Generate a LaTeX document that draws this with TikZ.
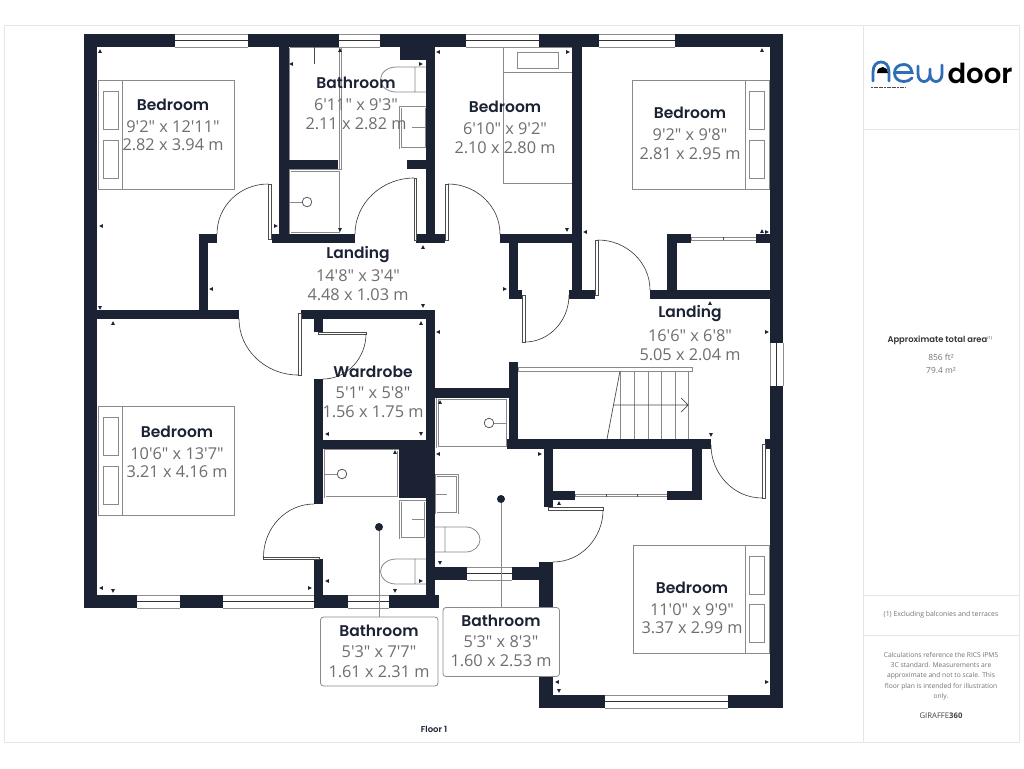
\documentclass[tikz,border=0pt]{standalone}
\usepackage{fontspec}
\setmainfont{Open Sans}[Ligatures=TeXOff]
\newfontfamily\titlef{Poppins}[BoldFont={Poppins SemiBold}]
\definecolor{wallc}{HTML}{1A2233}
\definecolor{fixc}{HTML}{8A8A8A}
\definecolor{txtc}{HTML}{6E6E6E}
\definecolor{framec}{HTML}{E6E6E6}
\definecolor{logob}{HTML}{2F6DB5}
\tikzset{
  x=1pt,y=-1pt,
  fix/.style={draw=fixc,line width=0.8pt},
  fixd/.style={draw=black!70,line width=0.7pt},
  dbl/.style={draw=fixc,line width=0.95pt,double=white,double distance=1pt},
  arcl/.style={draw=black!80,line width=0.6pt},
  leaf/.style={draw=black!70,fill=white,line width=0.6pt},
  win/.style={draw=black!45,line width=0.7pt},
  winc/.style={draw=black!80,line width=0.7pt},
  roomt/.style={font=\titlef\fontsize{15.5}{15.5}\selectfont\bfseries,text=wallc,inner sep=0pt,anchor=center,yshift=0.9pt},
  roomd/.style={font=\fontsize{16.3}{16.3}\selectfont,text=txtc,inner sep=0pt,anchor=center},
  side/.style={font=\fontsize{6.9}{8}\selectfont,text=black!55,inner sep=0pt,anchor=center,align=center},
  callout/.style={draw=fixc,fill=white,rounded corners=3pt,line width=0.8pt,inner sep=0pt},
  cdot/.style={circle,fill=wallc,inner sep=0pt,minimum size=8pt},
  clink/.style={draw=fixc,line width=0.8pt}
}
\newcommand{\wallr}[4]{\fill[wallc] (#1,#2) rectangle (#3,#4);}
\newcommand{\winh}[4]{\fill[white] (#1,#3) rectangle (#2,#4);\draw[win] (#1,#3)--(#2,#3) (#1,#4)--(#2,#4);\draw[winc] (#1,{(#3+#4)/2})--(#2,{(#3+#4)/2});}
\newcommand{\winv}[4]{\fill[white] (#1,#3) rectangle (#2,#4);\draw[win] (#1,#3)--(#1,#4) (#2,#3)--(#2,#4);\draw[winc] ({(#1+#2)/2},#3)--({(#1+#2)/2},#4);}
\newcommand{\triU}[2]{\fill[wallc,shift={(#1,#2)}] (-1.9,1.9)--(1.9,1.9)--(0,-1.9)--cycle;}
\newcommand{\triD}[2]{\fill[wallc,shift={(#1,#2)}] (-1.9,-1.9)--(1.9,-1.9)--(0,1.9)--cycle;}
\newcommand{\triL}[2]{\fill[wallc,shift={(#1,#2)}] (1.9,-1.9)--(1.9,1.9)--(-1.9,0)--cycle;}
\newcommand{\triR}[2]{\fill[wallc,shift={(#1,#2)}] (-1.9,-1.9)--(-1.9,1.9)--(1.9,0)--cycle;}
\begin{document}
\begin{tikzpicture}
\useasboundingbox (0,0) rectangle (1024,768);
\fill[white] (0,0) rectangle (1024,768);
% frame
\draw[framec,line width=0.9pt] (4,25.5) rectangle (1019,742.5) (863.5,25.5)--(863.5,742.5)
  (863.5,129.5)--(1019,129.5) (863.5,595.5)--(1019,595.5) (863.5,635.5)--(1019,635.5);
% beds, fixtures
\draw[fix] (98,80) rectangle (234,189) (122.5,80)--(122.5,189);
\draw[fix] (103,91) rectangle (118,129) (103,140) rectangle (118,178);
\draw[fix] (98,406) rectangle (234,515) (122.5,406)--(122.5,515);
\draw[fix] (103,417) rectangle (118,455) (103,466) rectangle (118,504);
\draw[fix] (503,47) rectangle (572,183) (503,72)--(572,72);
\draw[fix] (517,52) rectangle (558,68);
\draw[fix] (632,80) rectangle (769,189) (745,80)--(745,189);
\draw[fix] (749,91) rectangle (764,129) (749,140) rectangle (764,178);
\draw[fix] (633,545) rectangle (769,653) (745,545)--(745,653);
\draw[fix] (749,556) rectangle (764,594) (749,604) rectangle (764,642);
% top bathroom
\draw[fix,line width=1pt] (289.5,48)--(340,48) (289.5,48)--(289.5,160);
\draw[fix,line width=0.8pt] (339.5,47)--(339.5,233) (341.5,47)--(341.5,170);
\draw[fixd] (314,47)--(314,64);
\draw[dbl] (290,170.5) rectangle (340,233);
\draw[black!70,line width=0.7pt] (307,202) circle (4.8);
\draw[fix] (289,202)--(302.2,202);
\draw[fix] (426,67)--(396,67) .. controls (387,67) and (380.5,73) .. (380.5,79.5) .. controls (380.5,86) and (387,92) .. (396,92)--(426,92) (415,67)--(415,92);
\draw[dbl] (400.5,107) rectangle (426,148);
\draw[fix] (412,127)--(425,127);
% second bathroom
\draw[dbl] (325,450) rectangle (398.5,497);
\draw[black!70,line width=0.7pt] (342,474) circle (4.8);
\draw[fix] (324,474)--(337.2,474);
\draw[dbl] (400.5,501) rectangle (425,538);
\draw[fix] (412,519)--(425,519);
\draw[fix] (426,559)--(396,559) .. controls (387,559) and (380.5,565) .. (380.5,571.5) .. controls (380.5,578) and (387,584) .. (396,584)--(426,584) (415,559)--(415,584);
% third bathroom
\draw[dbl] (437.5,398.5) rectangle (507,447);
\draw[black!70,line width=0.7pt] (489,423) circle (4.8);
\draw[fix] (493.8,423)--(507,423);
\draw[dbl] (436,475.5) rectangle (457.5,513);
\draw[fix] (436,494)--(447,494);
\draw[fix] (435,527)--(466,527) .. controls (474,527) and (480,533) .. (480,539.5) .. controls (480,546) and (474,552) .. (466,552)--(435,552) (445,527)--(445,552);
% stairs
\draw[fix,fill=white] (518,367.5) rectangle (692,371);
\foreach \sx in {620,634,648,661,675,688} {\draw[fix] (\sx,371)--(\sx,439);}
\draw[fixd] (620,371)--(607,439);
\draw[fixd] (613,405)--(688,405) (681,398)--(688,405)--(681,412);
% sliding doors
\draw[fix,fill=white] (691,237.5) rectangle (756,240);
\draw[fix,fill=white] (575,494) rectangle (667,496.5);
\draw[fixd] (723,237)--(723,240) (606,494)--(606,497) (637,494)--(637,497);
% walls: outer
\wallr{84}{34}{783}{47}
\wallr{84}{34}{97}{608}
\wallr{770}{34}{783}{708}
\wallr{84}{595}{439}{608}
\wallr{539}{695}{783}{708}
\wallr{539}{562}{552.5}{708}
\wallr{435}{567}{552.5}{580}
\wallr{426}{449}{435}{608}
\wallr{426}{310}{435}{449}
% windows
\winh{175}{248}{34}{47}
\winh{339}{380}{34}{47}
\winh{466}{539}{34}{47}
\winh{599}{675}{34}{47}
\winh{137}{180}{595}{608}
\winh{223}{314}{595}{608}
\winh{348}{389}{595}{608}
\winh{467}{512}{567}{580}
\winh{605}{728}{695}{708}
\winv{770}{783}{343}{386}
% interior walls
\wallr{279}{47}{289}{243}
\wallr{272}{234}{355}{243}
\wallr{289}{160}{338}{169}
\wallr{400}{47}{426}{60}
\wallr{426}{47}{435}{243}
\wallr{407}{160}{426}{169}
\wallr{416}{234}{445}{243}
\wallr{500}{234}{572}{243}
\wallr{572}{47}{582}{299}
\wallr{569}{290}{595}{299}
\wallr{509}{243}{518}{299}
\wallr{509}{290}{522}{299}
\wallr{667}{234}{676.5}{299}
\wallr{667}{234}{691}{243}
\wallr{756}{234}{770}{243}
\wallr{650}{290}{770}{299}
\wallr{199}{234}{208}{319}
\wallr{199}{234}{217}{243}
\wallr{97}{310}{239}{319}
\wallr{301}{310}{435}{319}
\wallr{314}{319}{323}{332}
\wallr{314}{379}{323}{504}
\wallr{314}{440}{435}{449}
\wallr{399}{449}{426}{498}
\wallr{314}{559}{323}{600}
\wallr{435}{388}{509}{398}
\wallr{509}{362}{518}{449}
\wallr{507}{439}{711}{449}
\wallr{544}{449}{553}{507}
\wallr{544}{491}{575}{500}
\wallr{692}{449}{702}{500}
\wallr{667}{491}{702}{500}
\wallr{765}{439}{770}{449}
\wallr{543}{562}{553}{567}
% doors
\draw[leaf] (268,184) rectangle (271,239);
\draw[arcl] (268,184) .. controls (240,184) and (217,206) .. (217,234);
\draw[leaf] (414,178) rectangle (416.5,240);
\draw[arcl] (414,178) .. controls (382,178) and (355,203) .. (355,234);
\draw[leaf] (445,184) rectangle (448,240);
\draw[arcl] (448,184) .. controls (476,184) and (500,206) .. (500,234);
\draw[leaf] (595.5,240) rectangle (598,295);
\draw[arcl] (598,240) .. controls (626,240) and (650,262) .. (650,290);
\draw[leaf] (522,295) rectangle (525,342);
\draw[arcl] (525,342) .. controls (549,342) and (569,321) .. (569,295);
\draw[leaf] (298,313) rectangle (301,375);
\draw[arcl] (239,319) .. controls (239,350) and (266,375) .. (298,375);
\draw[leaf] (318,332) rectangle (366,334.5);
\draw[arcl] (366,334) .. controls (366,358) and (347,379) .. (323,379);
\draw[leaf] (263.5,557) rectangle (319,559.5);
\draw[arcl] (263.5,557) .. controls (263.5,528) and (286,504) .. (314,504);
\draw[leaf] (548,507) rectangle (603,510);
\draw[arcl] (603,510) .. controls (603,538) and (581,562) .. (553,562);
\draw[leaf] (762,444) rectangle (765,498);
\draw[arcl] (711,445) .. controls (711,474) and (734,498) .. (762,498);
% dimension ticks
\triU{100}{51}\triL{101}{226}\triD{100}{308}\triR{276}{226}
\triL{291}{64}\triU{340}{50}\triD{340}{230}\triR{421}{64}
\triU{423}{247}\triL{211}{289}\triD{423}{306}
\triL{438}{52}\triR{568}{52}\triD{567}{230}\triL{585}{232}\triU{762}{50}\triR{767}{232}\triU{762}{231}
\triR{505}{289}\triU{710}{303}
\triU{113}{323}\triU{421}{323}\triL{327}{434}\triD{421}{434}\triU{395}{452}
\triL{101}{588}\triD{113}{591}\triR{310}{588}\triL{327}{581}\triR{421}{581}\triD{395}{591}
\triL{438}{332}\triR{767}{332}\triD{711}{435}\triU{440}{402}\triL{438}{454}\triR{540}{454}
\triU{559}{503}\triD{440}{563}\triL{557}{682}\triD{559}{691}\triR{767}{682}
% room labels
\node[roomt] (t1) at (173,105.5) {Bedroom};
\node[roomd] (a1) at (173,127) {9'2" x 12'11"};
\node[roomd] (b1) at (173,145) {2.82 x 3.94 m};
\node[roomt] (t2) at (356,83.5) {Bathroom};
\node[roomd] (a2) at (356,105) {6'11" x 9'3"};
\node[roomd] (b2) at (356,124) {2.11 x 2.82 m};
\node[roomt] (t3) at (505,107.5) {Bedroom};
\node[roomd] (a3) at (505,129) {6'10" x 9'2"};
\node[roomd] (b3) at (505,148) {2.10 x 2.80 m};
\node[roomt] (t4) at (690,113.5) {Bedroom};
\node[roomd] (a4) at (690,135) {9'2" x 9'8"};
\node[roomd] (b4) at (690,154) {2.81 x 2.95 m};
\node[roomt] (t5) at (358,255.5) {Landing};
\node[roomd] (a5) at (358,276) {14'8" x 3'4"};
\node[roomd] (b5) at (358,295) {4.48 x 1.03 m};
\node[roomt] (t6) at (690,314.5) {Landing};
\node[roomd] (a6) at (690,336) {16'6" x 6'8"};
\node[roomd] (b6) at (690,355) {5.05 x 2.04 m};
\node[roomt] (t7) at (373,372.5) {Wardrobe};
\node[roomd] (a7) at (373,393) {5'1" x 5'8"};
\node[roomd] (b7) at (373,412) {1.56 x 1.75 m};
\node[roomt] (t8) at (177,432.5) {Bedroom};
\node[roomd] (a8) at (177,454) {10'6" x 13'7"};
\node[roomd] (b8) at (177,472) {3.21 x 4.16 m};
\node[roomt] (t9) at (692,588.5) {Bedroom};
\node[roomd] (a9) at (692,610) {11'0" x 9'9"};
\node[roomd] (b9) at (692,628) {3.37 x 2.99 m};
% callouts
\node[cdot] (d1) at (379,527) {};
\node[cdot] (d2) at (501,499) {};
\path[callout] (320.5,617) rectangle (438,686);
\path[callout] (443,607.5) rectangle (559.5,676.5);
\coordinate (c1) at (379,617);
\coordinate (c2) at (501,607.5);
\draw[clink] (d1)--(c1);
\draw[clink] (d2)--(c2);
\node[roomt] (t10) at (379,631.5) {Bathroom};
\node[roomd] (a10) at (379,652) {5'3" x 7'7"};
\node[roomd] (b10) at (379,672) {1.61 x 2.31 m};
\node[roomt] (t11) at (501,621.5) {Bathroom};
\node[roomd] (a11) at (501,642) {5'3" x 8'3"};
\node[roomd] (b11) at (501,661) {1.60 x 2.53 m};
% footer & side panel
\node[font=\titlef\fontsize{8.5}{9}\selectfont\bfseries,text=wallc,inner sep=0pt] (fl) at (434,729) {Floor 1};
\node[font=\titlef\fontsize{8.4}{9}\selectfont\bfseries,text=black!80,inner sep=0pt] (ar) at (940,340) {Approximate total area\textsuperscript{\normalfont\fontsize{4}{4}\selectfont(1)}};
\node[side,font=\fontsize{8.4}{9}\selectfont] (ft) at (941,357) {856 ft²};
\node[side,font=\fontsize{8.4}{9}\selectfont] (mt) at (941,371) {79.4 m²};
\node[side] (ex) at (941,615) {(1) Excluding balconies and terraces};
\node[side,font=\fontsize{6.7}{10.3}\selectfont] (no) at (941,676) {Calculations reference the RICS IPMS\\3C standard. Measurements are\\approximate and not to scale. This\\floor plan is intended for illustration\\only.};
\node[side,font=\fontsize{7.7}{8}\selectfont,text=black!75] (gi) at (941,716) {GIRAFFE\textbf{360}};
% logo
\begin{scope}[line width=2.8pt,line cap=round,draw=logob]
\draw (873,81) -- (873,72) .. controls (873,65) and (877,62) .. (881,62) .. controls (885,62) and (889,65) .. (889,72) -- (889,81);
\draw (895,72.5) -- (912,72.5) .. controls (911,67) and (908,64.5) .. (904,64.5) .. controls (898,64.5) and (894.5,68) .. (894.5,73) .. controls (894.5,78) and (898,81.5) .. (904,81.5) .. controls (907,81.5) and (910,80.5) .. (912,78);
\draw (918,66) -- (918,74) .. controls (918,79) and (921,81.5) .. (924,81.5) .. controls (927,81.5) and (930,79) .. (930,74) -- (930,69) (930,74) .. controls (930,79) and (933,81.5) .. (936,81.5) .. controls (939,81.5) and (942,79) .. (942,74) -- (942,65);
\end{scope}
\fill[black] (877,73) .. controls (877,69) and (880,67) .. (883,67) .. controls (886,67) and (888,70) .. (888,73) -- cycle;
\node[font=\titlef\fontsize{27.5}{29}\selectfont\bfseries,text=black,inner sep=0pt,anchor=base] (lg) at (980,83) {door};
\draw[black!70,line width=1pt,dash pattern=on 2pt off 0.6pt] (871,87.5)--(906,87.5);
\end{tikzpicture}
\end{document}
